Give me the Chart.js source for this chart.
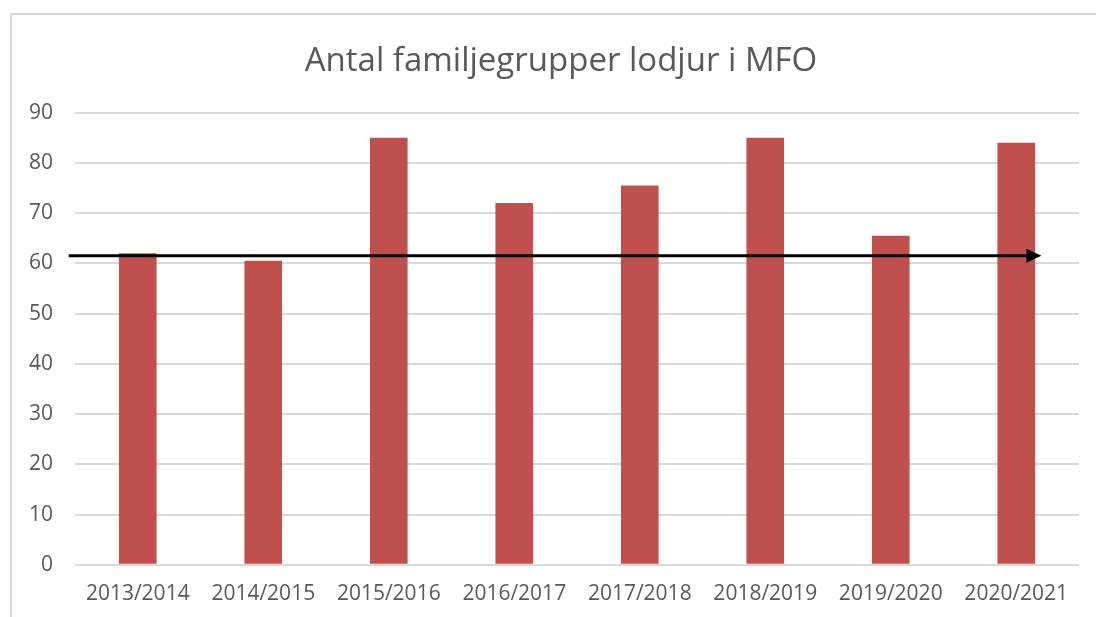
<!DOCTYPE html>
<html>
<head>
<meta charset="utf-8">
<script src="https://cdn.jsdelivr.net/npm/chart.js@4.4.1/dist/chart.umd.min.js"></script>
<style>
  html, body { margin: 0; padding: 0; background: #fff; overflow: hidden; }
  #frame { position: absolute; left: 10px; top: 13px; width: 1200px; height: 700px; border: 2px solid #d9d9d9; }
  #wrap { position: absolute; left: 0; top: 0; width: 1096px; height: 617px; }
</style>
</head>
<body>
<div id="frame"></div>
<div id="wrap"><canvas id="barChart" width="1096" height="617"></canvas></div>
<script>
var seasons = ["2013/2014", "2014/2015", "2015/2016", "2016/2017", "2017/2018", "2018/2019", "2019/2020", "2020/2021"];
var groups = [62, 60.5, 85, 72, 75.5, 85, 65.5, 84];
var yTicks = [0, 10, 20, 30, 40, 50, 60, 70, 80, 90];
// medelvärde-pilen
var arrowValue = 61.5;
var arrowFrom = -0.55;
var arrowTo = 7.2;

var arrowPlugin = {
  id: 'arrow',
  afterLayout: function(chart) {
    // titeln står lite till höger i originalet
    if (chart.titleBlock) {
      chart.titleBlock.left += 18;
      chart.titleBlock.right += 18;
    }
  },
  afterDatasetsDraw: function(chart) {
    var ctx = chart.ctx;
    var x = chart.scales.x, y = chart.scales.y;
    var x0 = x.getPixelForValue(arrowFrom);
    var x1 = x.getPixelForValue(arrowTo);
    var yy = y.getPixelForValue(arrowValue);
    ctx.save();
    ctx.strokeStyle = '#000';
    ctx.fillStyle = '#000';
    ctx.lineWidth = 3;
    ctx.beginPath();
    ctx.moveTo(x0, yy);
    ctx.lineTo(x1 - 10, yy);
    ctx.stroke();
    ctx.beginPath();
    ctx.moveTo(x1, yy);
    ctx.lineTo(x1 - 15, yy - 7);
    ctx.lineTo(x1 - 15, yy + 7);
    ctx.closePath();
    ctx.fill();
    ctx.restore();
  }
};

var ctxB = document.getElementById("barChart").getContext('2d');
var myBarChart = new Chart(ctxB, {
  type: 'bar',
  data: {
    labels: seasons,
    datasets: [{
      data: groups,
      backgroundColor: "#c0504d",
      barPercentage: 0.3,
      categoryPercentage: 1
    }]
  },
  options: {
    responsive: false,
    animation: false,
    layout: { padding: { left: 7, right: 17, top: 10, bottom: 1 } },
    plugins: {
      legend: { display: false },
      tooltip: { enabled: false },
      title: {
        display: true,
        text: "Antal familjegrupper lodjur i MFO",
        color: "#595959",
        font: { family: "Open Sans", size: 33, weight: 'normal' },
        padding: { top: 32, bottom: 31 }
      }
    },
    scales: {
      x: {
        grid: { display: false },
        border: { display: false },
        ticks: { color: "#595959", font: { family: "Open Sans", size: 21 }, padding: 9 }
      },
      y: {
        min: 0,
        max: 90,
        afterBuildTicks: function(axis) {
          axis.ticks = yTicks.map(function(v) { return { value: v }; });
        },
        grid: { color: "#d9d9d9", lineWidth: 2, drawTicks: false },
        border: { display: false },
        ticks: { color: "#595959", font: { family: "Open Sans", size: 21 }, padding: 22 }
      }
    }
  },
  plugins: [arrowPlugin]
});
</script>
</body>
</html>
